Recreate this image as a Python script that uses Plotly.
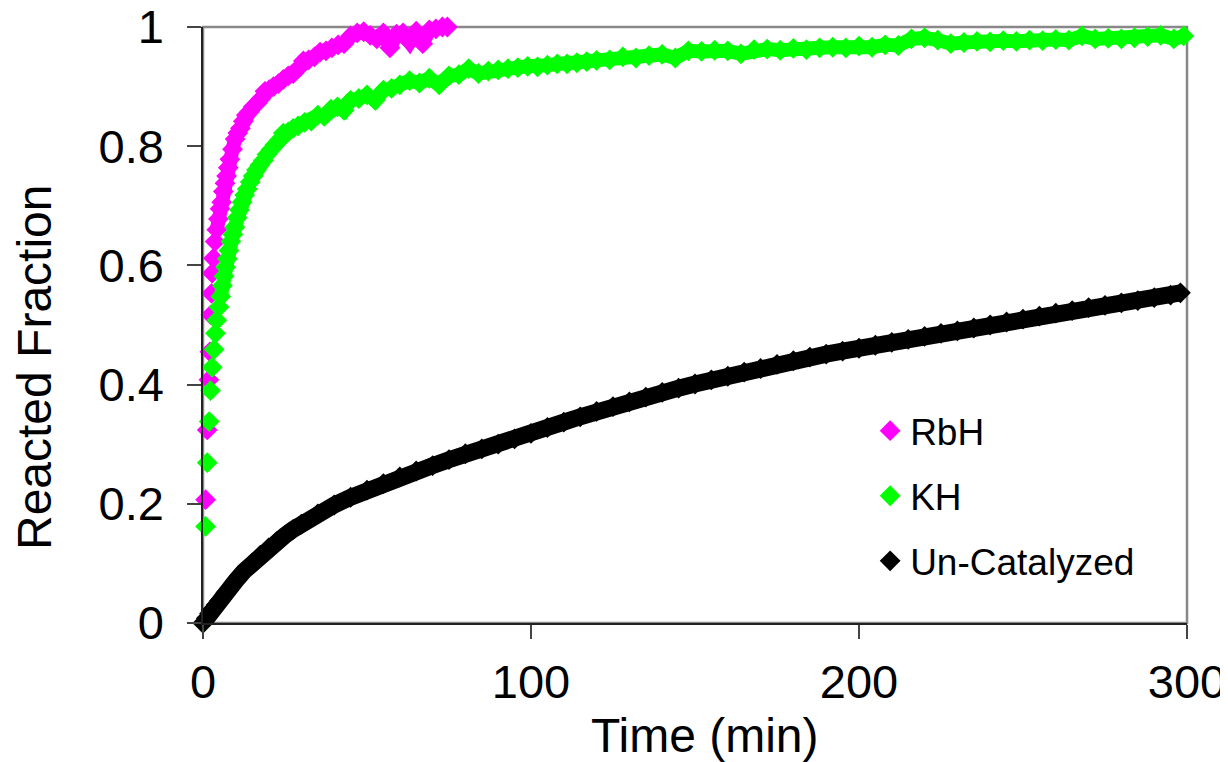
import plotly.graph_objects as go

# RbH catalysed run
rbh_time = [0, 0.8, 1.3, 1.8, 2.1, 2.4, 2.6, 2.8, 3.2, 3.7, 4.2, 4.7, 5.2, 5.7, 6.2, 6.7,
            7.2, 7.7, 8.2, 9.0, 9.8, 10.6, 11.4, 12.3, 13.2, 14.2, 15.3, 16.5, 17.7, 18.9,
            20.2, 21.5, 23.0, 24.5, 26.0, 27.5, 29.0, 30.6, 32.2, 34.0, 35.7, 37.5, 39.3,
            41.2, 43.0, 45.0, 47.0, 49.0, 51.0, 53.0, 55.0, 57.0, 59.0, 61.0, 63.0, 65.0,
            67.0, 69.0, 71.0, 73.0, 74.5]
rbh_frac = [0, 0.207, 0.324, 0.408, 0.455, 0.517, 0.553, 0.587, 0.612, 0.640, 0.660, 0.678,
            0.695, 0.706, 0.724, 0.738, 0.750, 0.764, 0.778, 0.795, 0.812, 0.822, 0.830,
            0.842, 0.852, 0.858, 0.866, 0.872, 0.880, 0.892, 0.895, 0.900, 0.905, 0.912,
            0.918, 0.922, 0.930, 0.943, 0.945, 0.950, 0.958, 0.960, 0.965, 0.970, 0.972,
            0.985, 0.990, 0.992, 0.986, 0.980, 0.990, 0.965, 0.988, 0.990, 0.975, 0.993,
            0.972, 0.995, 0.997, 1.000, 1.000]

# KH catalysed run
kh_time = [0, 0.8, 1.3, 1.9, 2.3, 2.8, 3.4, 3.8, 4.2, 4.9, 5.4, 5.9, 6.4, 6.9, 7.4, 7.9,
           8.5, 9.1, 9.7, 10.4, 11.1, 11.9, 12.7, 13.5, 14.4, 15.3, 16.3, 17.3, 18.4, 19.5,
           20.7, 21.9, 23.2, 24.5, 26, 27.5, 29, 31, 33, 35, 37, 39, 41, 43, 45, 47.5, 50,
           52.5, 55, 57.5, 60, 63, 66, 69, 72, 75, 78, 81, 84, 87, 90, 93, 96, 99, 102, 105,
           108, 111, 114, 117, 120, 124, 128, 132, 136, 140, 144, 148, 152, 156, 160, 164,
           168, 172, 176, 180, 184, 188, 192, 196, 200, 204, 208, 212, 216, 220, 224, 228,
           232, 236, 240, 244, 248, 252, 256, 260, 264, 268, 272, 276, 280, 284, 288, 292,
           296, 299]
kh_frac = [0, 0.162, 0.269, 0.338, 0.390, 0.429, 0.459, 0.486, 0.508, 0.530, 0.548, 0.566,
           0.582, 0.597, 0.611, 0.625, 0.640, 0.652, 0.664, 0.680, 0.693, 0.706, 0.718,
           0.728, 0.740, 0.750, 0.760, 0.768, 0.776, 0.786, 0.794, 0.802, 0.810, 0.822,
           0.824, 0.830, 0.834, 0.840, 0.842, 0.852, 0.850, 0.862, 0.866, 0.860, 0.877,
           0.880, 0.886, 0.877, 0.894, 0.897, 0.903, 0.910, 0.906, 0.914, 0.903, 0.918,
           0.920, 0.930, 0.922, 0.926, 0.928, 0.930, 0.932, 0.934, 0.933, 0.936, 0.938,
           0.938, 0.940, 0.942, 0.944, 0.945, 0.950, 0.948, 0.952, 0.954, 0.948, 0.960,
           0.959, 0.961, 0.960, 0.955, 0.962, 0.963, 0.961, 0.964, 0.962, 0.965, 0.966,
           0.965, 0.968, 0.966, 0.970, 0.969, 0.980, 0.982, 0.978, 0.972, 0.974, 0.976,
           0.975, 0.977, 0.976, 0.978, 0.977, 0.979, 0.978, 0.985, 0.980, 0.981, 0.980,
           0.982, 0.984, 0.986, 0.980, 0.985]

# uncatalysed run
unc_time = [0, 1, 2, 3, 4, 5, 7, 10, 12.5, 15, 17.5, 20, 22.5, 25, 27.5, 30, 35, 40, 45, 50,
            55, 60, 65, 70, 75, 80, 85, 90, 95, 100, 105, 110, 115, 120, 125, 130, 135, 140,
            145, 150, 155, 160, 165, 170, 175, 180, 185, 190, 195, 200, 205, 210, 215, 220,
            225, 230, 235, 240, 245, 250, 255, 260, 265, 270, 275, 280, 285, 290, 295, 298]
unc_frac = [0, 0.008, 0.016, 0.023, 0.030, 0.037, 0.051, 0.071, 0.087, 0.101, 0.114, 0.126,
            0.137, 0.147, 0.157, 0.166, 0.183, 0.198, 0.211, 0.223, 0.234, 0.245, 0.255,
            0.264, 0.274, 0.284, 0.292, 0.300, 0.309, 0.318, 0.328, 0.337, 0.346, 0.355,
            0.363, 0.371, 0.379, 0.387, 0.394, 0.401, 0.408, 0.414, 0.421, 0.427, 0.434,
            0.440, 0.446, 0.451, 0.456, 0.461, 0.466, 0.471, 0.476, 0.481, 0.486, 0.490,
            0.495, 0.500, 0.505, 0.510, 0.515, 0.520, 0.524, 0.529, 0.533, 0.537, 0.541,
            0.546, 0.550, 0.554]

x_ticks = [0, 100, 200, 300]
y_ticks = [0, 0.2, 0.4, 0.6, 0.8, 1]

MAGENTA = "#ff00ff"
GREEN = "#00ff00"
BLACK = "#000000"
FONT = "Arial, Liberation Sans, sans-serif"

series = [
    ("RbH", rbh_time, rbh_frac, MAGENTA),
    ("KH", kh_time, kh_frac, GREEN),
    ("Un-Catalyzed", unc_time, unc_frac, BLACK),
]

fig = go.Figure()
for name, t, f, col in series:
    # thick line under the diamonds fills the dense band (skip the sparse start)
    start = 0 if name == "Un-Catalyzed" else 10
    fig.add_trace(go.Scatter(x=t[start:], y=f[start:], mode="lines",
                             line=dict(color=col, width=17 if name == "Un-Catalyzed" else 14),
                             showlegend=False, hoverinfo="skip", cliponaxis=False))
    fig.add_trace(go.Scatter(x=t, y=f, mode="markers", name=name,
                             legendgroup=name,
                             marker=dict(symbol="diamond", size=16, color=col),
                             cliponaxis=False))

axis_common = dict(showgrid=False, zeroline=False, showline=True, linecolor="#222",
                   linewidth=1.5, ticks="outside", ticklen=14, tickwidth=1.5,
                   tickcolor="#444", tickfont=dict(size=47, family=FONT, color="black"),
                   mirror=False, automargin=False, ticklabeloverflow="allow")

# axis titles as annotations so they sit exactly where the reference has them
titles = [
    dict(text="Time (min)", x=0.51, y=0, xref="paper", yref="paper",
         xanchor="center", yanchor="middle", yshift=-112, showarrow=False,
         font=dict(size=48, family=FONT, color="black")),
    dict(text="Reacted Fraction", x=0, y=0.4295, xref="paper", yref="paper",
         xanchor="center", yanchor="middle", xshift=-169, textangle=-90,
         showarrow=False, font=dict(size=48, family=FONT, color="black")),
]

# the page body has an 8px margin, so the figure is a bit smaller than the window
fig.update_layout(
    width=1220, height=754,
    margin=dict(l=195, r=41, t=19, b=139),
    paper_bgcolor="white", plot_bgcolor="white",
    font=dict(family=FONT, color="black"),
    xaxis=dict(range=[0, 300], tickvals=x_ticks, ticklabelstandoff=3, **axis_common),
    yaxis=dict(range=[0, 1], tickvals=y_ticks, ticktext=[f"{v:g}" for v in y_ticks],
               ticklabelstandoff=14, **axis_common),
    legend=dict(x=0.678, y=0.374, xanchor="left", yanchor="top",
                font=dict(size=37, family=FONT), bgcolor="rgba(0,0,0,0)",
                tracegroupgap=14, itemwidth=30),
    annotations=titles,
    shapes=[dict(type="rect", xref="paper", yref="paper", x0=0, x1=1, y0=0, y1=1,
                 line=dict(color="#888", width=2.5), layer="below")],
)

fig.write_html("out.html")
